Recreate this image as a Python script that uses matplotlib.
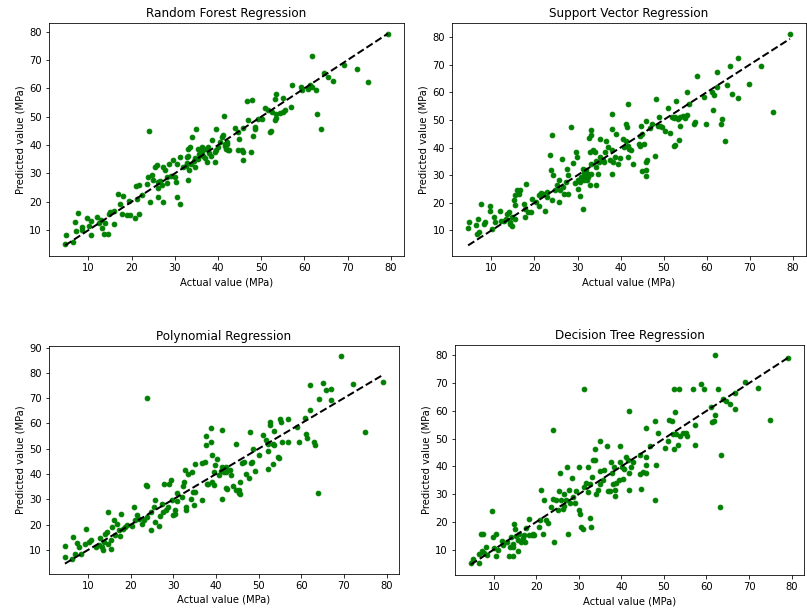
import numpy as np
import matplotlib
matplotlib.use("Agg")
import matplotlib.pyplot as plt
from matplotlib.ticker import MultipleLocator

# ---- Random Forest ----
rf_actual = [4.6, 4.9, 6.4, 7.6, 6.9, 7.0, 8.4, 8.5, 9.7, 10.1, 10.7, 10.5, 12.0, 12.8, 13.1, 13.5, 14.5, 13.9,
             14.7, 15.1, 15.8, 15.8, 16.8, 17.4, 18.1, 17.7, 18.9, 19.7, 19.3, 20.8, 21.6, 21.2, 21.0, 21.7,
             23.7, 23.5, 23.9, 24.3, 24.7, 25.4, 25.8, 25.0, 26.0, 26.2, 26.6, 27.3, 27.3, 27.7, 28.1, 28.6,
             29.6, 30.4, 30.0, 30.4, 31.2, 31.3, 31.9, 32.7, 33.1, 33.1, 33.5, 33.9, 34.6, 35.0, 35.4, 34.6,
             36.2, 36.3, 36.9, 37.3, 37.7, 38.6, 39.2, 39.6, 39.2, 40.0, 40.8, 41.1, 41.3, 41.5, 41.9,
             32.5, 33.2, 32.8, 33.8, 34.5, 35.3, 36.5, 37.8, 38.3, 39.5, 40.5, 41.5, 42.5, 42.0, 22.5, 12.5,
             29.2, 30.2, 28.2, 27.0, 26.0, 33.0, 35.5, 37.5,
             79.3, 61.8, 69.1, 72.1, 74.8, 64.6, 65.4, 66.7, 63.0, 63.8, 57.2, 59.1, 59.4, 61.2, 60.8, 61.8,
             62.7, 53.5, 53.1, 55.1, 56.8, 54.3, 55.4, 55.1, 50.8, 51.6, 52.4, 53.5, 53.1, 53.5, 52.2, 52.0,
             50.1, 49.3, 48.5, 48.5, 48.1, 47.0, 46.6, 47.9, 43.9, 44.7, 44.8, 45.8, 42.0, 42.4, 44.7, 45.6,
             45.8, 45.8, 47.6]
rf_pred = [5.2, 8.1, 5.7, 15.9, 13.0, 9.7, 11.1, 10.2, 14.1, 11.4, 13.2, 8.1, 14.6, 13.4, 10.8, 8.5, 8.7, 12.6,
           15.6, 16.5, 16.7, 12.0, 22.9, 19.1, 22.1, 15.6, 15.3, 15.3, 20.3, 14.4, 15.8, 20.9, 25.5, 26.0,
           28.6, 26.2, 44.8, 19.9, 29.5, 32.1, 33.1, 27.6, 25.0, 21.5, 27.4, 19.9, 32.1, 31.2, 28.6, 33.3,
           34.7, 21.7, 28.6, 33.3, 19.1, 35.9, 32.1, 35.9, 38.6, 27.6, 39.2, 43.0, 32.1, 45.7, 38.6, 35.6,
           37.4, 39.2, 35.6, 38.6, 39.2, 41.8, 33.9, 45.5, 37.4, 39.2, 42.8, 43.4, 50.4, 39.8, 38.6,
           32.5, 31.3, 33.8, 33.2, 34.5, 35.1, 36.2, 37.2, 36.3, 38.3, 41.0, 40.3, 38.3, 40.5, 22.5, 12.5,
           29.0, 26.8, 26.5, 26.0, 27.0, 36.0, 37.0, 34.0,
           79.0, 71.5, 68.1, 66.9, 62.4, 65.4, 64.0, 62.7, 51.0, 45.8, 61.3, 60.5, 59.3, 61.1, 59.9, 60.5,
           59.3, 57.9, 56.4, 56.7, 53.4, 51.3, 52.2, 51.6, 53.2, 52.2, 51.6, 51.0, 48.9, 49.5, 45.1, 44.5,
           49.1, 49.1, 46.5, 45.6, 43.2, 48.9, 55.5, 55.9, 46.1, 44.5, 42.2, 46.1, 41.0, 38.3, 38.3, 38.3,
           37.4, 34.8, 37.5]

# ---- Support Vector ----
svr_actual = [4.6, 4.9, 6.4, 6.8, 6.6, 7.2, 7.5, 8.2, 8.5, 9.7, 9.8, 10.2, 10.6, 10.8, 12.0, 12.3, 12.9, 13.3,
              13.7, 14.1, 14.3, 14.4, 14.8, 14.7, 15.2, 15.6, 15.6, 15.6, 16.0, 16.4, 16.7, 17.5, 17.7, 17.9,
              18.1, 18.4, 19.1, 19.4, 20.4, 21.0, 21.0, 21.5, 22.1, 22.5, 22.9, 23.0, 23.5, 23.9, 24.0, 24.0,
              24.4, 24.8, 25.2, 25.6, 25.8, 26.0, 26.3, 26.7, 26.9, 27.3, 27.5, 27.9, 27.9, 28.6, 28.9, 29.4,
              29.6, 29.8, 30.2, 30.2, 30.6, 30.9, 31.2, 31.3, 31.5, 31.7, 32.1, 32.5, 32.7, 32.9, 33.2, 33.2,
              33.2, 33.6, 34.0, 34.2, 34.4, 34.8, 35.0, 35.2, 35.3, 35.8, 36.1, 36.3, 36.7, 37.1, 37.5, 37.9,
              37.9, 37.9, 38.1, 38.2, 38.6, 39.0, 39.4, 39.8, 40.5, 40.9, 41.3, 41.7, 41.3, 41.7,
              30.5, 32.4, 32.8, 34.3, 33.2, 31.6, 32.0, 41.6, 42.0, 41.8,
              79.3, 67.2, 65.3, 72.6, 62.3, 57.7, 64.6, 69.7, 65.9, 67.2, 61.3, 61.7, 62.3, 59.4, 55.3, 55.9,
              52.9, 51.1, 48.3, 61.5, 75.3, 63.6, 63.3, 64.2, 59.8, 57.3, 57.1, 55.3, 55.0, 54.6, 53.8, 53.3,
              52.7, 52.3, 51.9, 53.8, 50.4, 51.5, 48.8, 49.2, 49.6, 48.7, 47.3, 46.0, 44.8, 45.0, 44.4, 46.9,
              52.7, 53.6, 52.3, 48.1, 46.1, 45.9, 45.4, 44.4, 44.2, 45.0, 42.8, 45.8, 46.0, 42.3]
svr_pred = [11.0, 13.0, 11.8, 14.1, 8.8, 9.4, 19.7, 12.4, 13.0, 18.7, 17.0, 10.6, 14.8, 13.0, 17.2, 13.4, 13.6,
            14.2, 16.0, 16.6, 12.2, 13.0, 11.5, 14.8, 21.1, 22.9, 19.1, 14.2, 24.5, 23.3, 24.5, 19.7, 17.9,
            14.8, 26.9, 16.6, 16.6, 21.5, 20.3, 22.7, 18.8, 23.5, 23.3, 17.0, 23.9, 22.1, 37.2, 32.0, 44.4,
            20.9, 29.9, 24.5, 26.3, 28.1, 20.3, 24.5, 36.0, 25.7, 23.3, 27.5, 32.3, 29.9, 23.3, 47.4, 34.4,
            27.1, 38.4, 36.6, 25.1, 28.1, 22.3, 29.3, 17.9, 32.3, 30.8, 29.6, 28.1, 30.5, 43.6, 38.4, 46.2,
            44.4, 33.9, 39.0, 38.4, 35.3, 33.0, 30.5, 34.8, 36.6, 43.2, 35.4, 34.8, 38.4, 42.4, 40.2, 35.4,
            52.0, 46.8, 30.5, 39.0, 34.8, 36.6, 45.0, 34.2, 36.3, 43.2, 40.2, 42.4, 55.6, 48.6, 36.6,
            27.5, 29.3, 26.3, 26.3, 30.5, 28.1, 31.7, 47.5, 39.6, 40.5,
            81.2, 72.5, 69.6, 69.6, 67.2, 65.8, 62.5, 63.0, 59.3, 57.9, 60.1, 58.9, 61.9, 58.3, 60.0, 55.6,
            56.8, 54.4, 57.6, 53.7, 53.0, 50.3, 48.6, 42.2, 48.6, 49.1, 48.6, 51.7, 50.8, 51.3, 51.1, 50.4,
            51.1, 50.7, 51.1, 47.9, 46.0, 45.2, 51.1, 47.7, 47.4, 47.7, 48.6, 49.5, 47.8, 44.8, 44.1, 46.9,
            41.0, 42.6, 40.4, 36.8, 35.6, 34.8, 41.4, 40.4, 41.2, 31.5, 33.9, 29.7, 32.0, 39.0]

# ---- Polynomial ----
poly_actual = [4.6, 4.7, 6.3, 6.6, 6.9, 7.4, 7.8, 8.4, 9.5, 9.4, 10.2, 10.6, 11.9, 12.5, 12.9, 13.3, 13.5, 13.7,
               14.1, 14.5, 14.7, 14.7, 15.3, 15.3, 15.7, 16.0, 16.4, 16.8, 17.2, 17.4, 17.8, 18.2, 18.6, 19.2,
               20.4, 20.7, 21.1, 21.5, 21.9, 22.6, 23.1, 23.5, 23.9, 23.9, 23.9, 24.7, 24.9, 25.5, 25.7, 25.8,
               26.6, 27.0, 27.4, 27.6, 27.8, 28.4, 28.8, 29.0, 29.4, 29.8, 29.9, 30.4, 30.5, 30.9, 30.9, 32.0,
               32.3, 32.5, 32.7, 32.9, 33.1, 33.5, 34.1, 34.5, 34.6, 34.9, 35.2, 35.2, 36.7, 36.8, 37.6, 37.4,
               37.6, 38.0, 38.2, 38.8, 38.8, 39.0, 39.0, 39.5, 39.5, 39.9, 40.3, 40.7, 41.1, 41.5, 41.5, 41.5,
               41.9, 42.3, 42.7,
               69.4, 62.0, 65.0, 65.7, 66.9, 72.2, 79.2, 66.9, 64.2, 62.0, 61.0, 61.2, 61.4, 62.9, 63.2, 63.9,
               74.9, 59.5, 59.0, 57.0, 56.8, 55.5, 55.3, 55.1, 53.6, 52.8, 52.6, 53.4, 53.6, 51.8, 51.0, 52.2,
               52.2, 50.1, 48.8, 48.0, 48.5, 48.3, 49.2, 47.1, 46.7, 47.7, 45.7, 45.5, 45.7, 45.5, 44.7, 44.1,
               44.6, 46.1, 43.6, 43.2, 42.4, 42.4, 52.2, 53.4, 54.5, 54.9]
poly_pred = [7.2, 11.7, 6.6, 15.1, 8.5, 12.7, 11.2, 8.3, 18.4, 12.5, 13.1, 13.8, 11.2, 11.8, 14.9, 11.2, 9.9,
             13.1, 16.4, 17.1, 25.0, 12.5, 10.5, 14.1, 19.1, 21.7, 15.8, 20.4, 17.8, 15.4, 24.3, 18.4, 19.1,
             19.7, 19.3, 27.0, 21.7, 23.7, 22.4, 20.4, 21.7, 35.5, 35.1, 70.0, 23.0, 18.0, 25.0, 27.0, 29.6,
             21.0, 19.3, 23.3, 28.3, 25.0, 36.2, 25.6, 27.0, 36.2, 37.5, 29.6, 23.7, 24.3, 25.6, 32.5, 29.3,
             30.9, 35.1, 36.8, 41.7, 25.6, 27.0, 40.1, 30.3, 40.8, 32.9, 27.6, 32.9, 44.1, 29.6, 44.3, 54.9,
             44.7, 51.3, 36.2, 36.2, 58.3, 52.6, 47.4, 36.8, 40.8, 35.5, 43.4, 46.0, 39.5, 41.4, 57.5, 30.3,
             42.7, 40.8, 40.8, 34.2,
             86.5, 75.3, 76.1, 73.3, 73.7, 75.7, 76.4, 69.1, 69.5, 65.4, 62.2, 55.9, 54.2, 52.6, 51.3, 32.6,
             56.6, 52.5, 58.5, 52.5, 61.8, 52.5, 60.5, 61.8, 57.0, 60.5, 59.2, 52.0, 51.3, 53.3, 55.6, 49.3,
             52.0, 47.6, 50.0, 56.6, 44.7, 44.3, 41.2, 39.9, 44.7, 38.5, 36.8, 33.5, 32.0, 32.5, 33.8, 35.1,
             51.7, 44.5, 39.5, 41.7, 42.7, 34.5, 42.1, 43.8, 46.7, 46.5]

# ---- Decision Tree ----
dt_actual = [4.6, 5.0, 6.4, 6.6, 7.0, 7.5, 7.2, 7.7, 8.1, 8.5, 9.5, 9.7, 10.1, 10.5, 10.5, 10.9, 11.9, 12.2,
             13.2, 13.6, 13.8, 14.0, 14.4, 14.4, 14.4, 14.8, 15.0, 15.2, 15.6, 15.8, 16.0, 16.4, 16.8, 17.1,
             17.4, 17.5, 18.2, 18.3, 19.0, 19.5, 19.1,
             21.1, 21.7, 20.9, 20.7, 21.5, 22.2, 22.7, 23.5, 23.9, 24.0, 24.1, 24.7, 25.1, 25.3, 25.6, 25.8,
             26.2, 26.4, 26.6, 27.0, 27.3, 27.4, 27.6, 27.8, 28.4, 28.7, 29.0, 29.4, 30.0, 30.0, 30.3, 30.6,
             30.9, 31.2, 31.3, 31.7, 32.1, 32.1, 32.5, 32.7, 32.9, 33.1, 33.3, 33.7, 33.9, 34.1, 34.5, 34.9,
             34.9, 35.0, 35.6, 35.8, 36.6, 36.8, 37.2, 37.6, 37.8, 38.0, 38.2, 38.4, 38.6, 38.8, 39.4, 39.6,
             39.7, 40.2, 40.4, 40.7, 41.1, 41.5, 41.8, 41.8, 41.8, 42.3, 42.7, 44.3, 44.4, 44.7, 45.1, 45.7,
             45.8, 45.8, 45.8, 46.8, 47.8, 48.0, 48.2, 48.6, 50.2, 51.0, 51.3, 52.0, 52.1, 52.3, 52.3, 52.5,
             52.9, 53.3, 53.5, 53.7, 54.5, 55.3, 55.4, 56.8, 57.2, 57.2, 58.8, 59.4, 61.9, 61.1, 61.3, 61.7,
             61.9, 62.7, 63.1, 63.5, 63.9, 64.7, 65.5, 66.6, 66.6, 69.0, 72.1, 74.9, 79.2]
dt_pred = [5.0, 6.6, 5.0, 8.4, 15.5, 15.5, 9.4, 8.7, 10.9, 8.2, 23.9, 14.5, 10.6, 15.7, 7.8, 9.9, 13.1, 11.8,
           12.7, 7.8, 11.1, 14.5, 7.8, 12.1, 10.9, 19.4, 17.5, 14.8, 13.3, 9.4, 15.7, 12.7, 14.3, 15.1,
           12.7, 17.9, 21.2, 15.1, 15.1, 15.1, 15.7,
           31.4, 28.0, 20.5, 18.0, 15.6, 20.7, 19.5, 25.3, 53.0, 28.4, 12.6, 27.8, 24.1, 31.2, 37.5, 27.8,
           24.7, 30.2, 25.6, 27.8, 39.9, 15.6, 31.4, 26.8, 35.7, 29.0, 26.8, 31.2, 39.9, 24.4, 22.9, 18.3,
           17.4, 67.9, 32.6, 34.1, 39.9, 30.8, 33.8, 21.4, 18.0, 36.3, 42.3, 42.3, 46.2, 30.2, 31.4, 38.4,
           49.0, 33.8, 35.0, 38.7, 47.2, 31.0, 31.1, 41.7, 37.7, 33.8, 39.9, 29.2, 31.4, 34.1, 35.0, 47.4,
           41.7, 39.9, 35.3, 38.9, 43.5, 42.3, 37.5, 60.0, 31.4, 39.9, 41.4, 44.2, 37.2, 32.0, 38.1, 40.5,
           37.5, 53.9, 43.5, 47.4, 27.8, 56.3, 40.5, 52.1, 46.6, 49.0, 56.9, 56.3, 51.8, 67.9, 46.2, 59.6,
           51.5, 47.8, 67.9, 50.8, 52.1, 52.1, 51.1, 67.9, 47.8, 55.1, 69.7, 67.9, 80.0, 61.5, 56.1, 56.3,
           58.7, 67.9, 25.3, 44.2, 64.2, 63.6, 62.4, 60.6, 66.6, 70.3, 68.1, 56.9, 79.1]

panels = [
    ("Random Forest Regression", rf_actual, rf_pred, (49, 23, 355, 233)),
    ("Support Vector Regression", svr_actual, svr_pred, (452, 23, 354, 233)),
    ("Polynomial Regression", poly_actual, poly_pred, (49, 346, 350, 228)),
    ("Decision Tree Regression", dt_actual, dt_pred, (455, 345, 349, 230)),
]

W, H = 807, 611
fig = plt.figure(figsize=(W / 72, H / 72), dpi=72)

for title, actual, pred, (left, top, width, height) in panels:
    ax = fig.add_axes([left / W, 1 - (top + height) / H, width / W, height / H])
    actual = np.asarray(actual)
    pred = np.asarray(pred)
    ax.scatter(actual, pred, color="green", s=22)
    lo, hi = actual.min(), actual.max()
    ax.plot([lo, hi], [lo, hi], "k--", lw=2)
    ax.xaxis.set_major_locator(MultipleLocator(10))
    ax.yaxis.set_major_locator(MultipleLocator(10))
    ax.set_title(title, fontsize=12)
    ax.set_xlabel("Actual value (MPa)", fontsize=10)
    ax.set_ylabel("Predicted value (MPa)", fontsize=10)
    ax.tick_params(labelsize=10)

fig.savefig("out.png", dpi=72)
